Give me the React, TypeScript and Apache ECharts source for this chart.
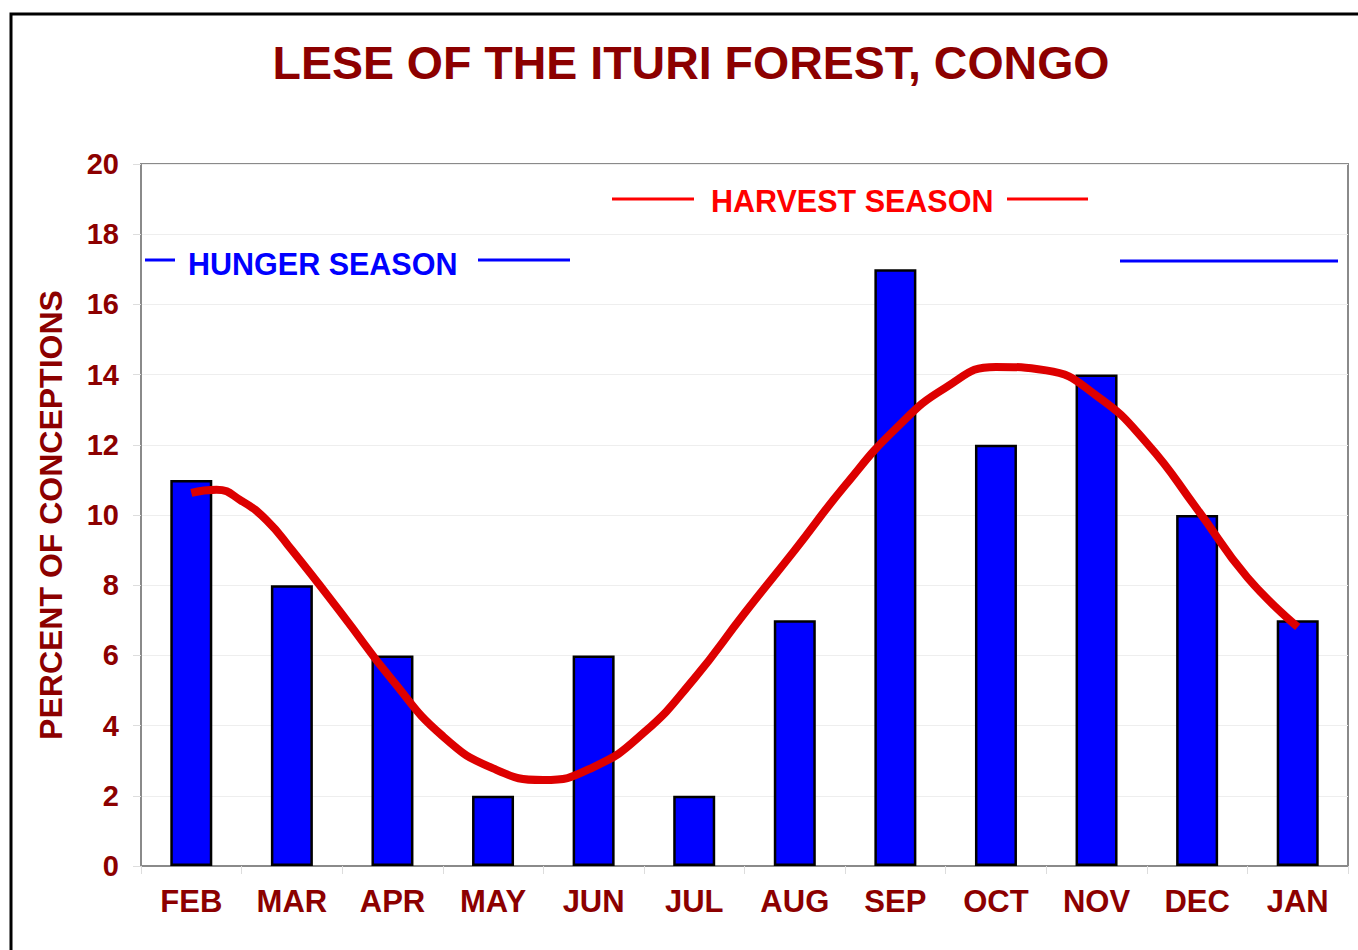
import React, { useEffect, useRef } from "react";
import * as echarts from "echarts";

const months = ["FEB", "MAR", "APR", "MAY", "JUN", "JUL", "AUG", "SEP", "OCT", "NOV", "DEC", "JAN"];
const conceptions = [11, 8, 6, 2, 6, 2, 7, 17, 12, 14, 10, 7];

// Trend curve (x in category-index units, y in percent)
const curveX = [0, 0.25, 0.5, 0.75, 1, 1.5, 2, 2.5, 3, 3.5, 4, 4.5, 5, 5.5, 6, 6.5, 7, 7.5, 8, 8.5, 9, 9.5, 10, 10.5, 11];
const curveY = [10.63, 10.72, 10.4, 9.85, 9.0, 7.17, 5.29, 3.7, 2.78, 2.45, 2.82, 3.8, 5.34, 7.2, 9.0, 10.84, 12.45, 13.63, 14.22, 14.12, 13.4, 12.05, 10.17, 8.22, 6.81];

const yTicks = { min: 0, max: 20, interval: 2 };

const titleText = "LESE OF THE ITURI FOREST, CONGO";
const yName = "PERCENT OF CONCEPTIONS";
const harvestLabel = "HARVEST SEASON";
const hungerLabel = "HUNGER SEASON";

const FONT = "'Liberation Sans', Arial, Helvetica, sans-serif";
const DARK_RED = "#8C0000";

export default function App() {
  const ref = useRef<HTMLDivElement>(null);

  useEffect(() => {
    if (!ref.current) return;
    const chart = echarts.init(ref.current, null, { renderer: "svg" });
    const curveData = curveX.map((x, i) => [x, curveY[i]]);

    chart.setOption({
      animation: false,
      backgroundColor: "#ffffff",
      title: {
        text: titleText,
        left: 686,
        top: 34,
        textAlign: "center",
        textStyle: { color: DARK_RED, fontSize: 46.5, fontWeight: "bold", fontFamily: FONT },
      },
      grid: {
        left: 141,
        top: 164,
        right: 10,
        bottom: 84,
        show: true,
        borderColor: "#8a8a8a",
        borderWidth: 2,
        backgroundColor: "transparent",
      },
      xAxis: [
        {
          type: "category",
          data: months,
          axisLine: { show: true, onZero: false, lineStyle: { color: "#8a8a8a", width: 2 } },
          axisTick: { show: true, length: 8, lineStyle: { color: "#dddddd" } },
          axisLabel: { color: DARK_RED, fontSize: 31, fontWeight: "bold", fontFamily: FONT, margin: 20 },
          splitLine: { show: false },
        },
        {
          type: "value",
          min: -0.5,
          max: 11.5,
          show: false,
          axisLine: { show: false },
          splitLine: { show: false },
        },
      ],
      yAxis: {
        type: "value",
        min: yTicks.min,
        max: yTicks.max,
        interval: yTicks.interval,
        name: yName,
        nameLocation: "middle",
        nameGap: 74,
        nameTextStyle: { color: DARK_RED, fontSize: 32, fontWeight: "bold", fontFamily: FONT },
        axisLine: { show: true, onZero: false, lineStyle: { color: "#8a8a8a", width: 2 } },
        axisTick: { show: true, length: 8, lineStyle: { color: "#dddddd" } },
        axisLabel: { color: DARK_RED, fontSize: 29, fontWeight: "bold", fontFamily: FONT, margin: 22 },
        splitLine: { show: true, lineStyle: { color: "#eeeeee", width: 1 } },
      },
      series: [
        {
          type: "bar",
          data: conceptions,
          barWidth: 42,
          itemStyle: { color: "#0000FF", borderColor: "#000000", borderWidth: 2.5 },
          z: 2,
        },
        {
          type: "line",
          xAxisIndex: 1,
          data: curveData,
          smooth: 0.5,
          showSymbol: false,
          symbol: "none",
          lineStyle: { color: "#DD0000", width: 8 },
          z: 3,
        },
      ],
      graphic: [
        {
          type: "rect",
          shape: { x: 11, y: 14, width: 1400, height: 1000 },
          style: { fill: "none", stroke: "#000000", lineWidth: 3 },
          silent: true,
          z: 0,
        },
        { type: "line", shape: { x1: 612, y1: 199, x2: 694, y2: 199 }, style: { stroke: "#FF0000", lineWidth: 3 }, z: 10 },
        { type: "line", shape: { x1: 1007, y1: 199, x2: 1088, y2: 199 }, style: { stroke: "#FF0000", lineWidth: 3 }, z: 10 },
        {
          type: "text",
          x: 711,
          y: 201,
          style: { text: harvestLabel, fill: "#FF0000", font: `bold 30.5px ${FONT}`, textVerticalAlign: "middle", textAlign: "left" },
          z: 10,
        },
        { type: "line", shape: { x1: 145, y1: 260, x2: 175, y2: 260 }, style: { stroke: "#0000FF", lineWidth: 3 }, z: 10 },
        { type: "line", shape: { x1: 478, y1: 260, x2: 570, y2: 260 }, style: { stroke: "#0000FF", lineWidth: 3 }, z: 10 },
        { type: "line", shape: { x1: 1120, y1: 261, x2: 1338, y2: 261 }, style: { stroke: "#0000FF", lineWidth: 3 }, z: 10 },
        {
          type: "text",
          x: 188,
          y: 264,
          style: { text: hungerLabel, fill: "#0000FF", font: `bold 30.5px ${FONT}`, textVerticalAlign: "middle", textAlign: "left" },
          z: 10,
        },
      ],
    });

    return () => chart.dispose();
  }, []);

  return (
    <div
      ref={ref}
      style={{ position: "absolute", left: 0, top: 0, width: 1358, height: 950 }}
    />
  );
}
